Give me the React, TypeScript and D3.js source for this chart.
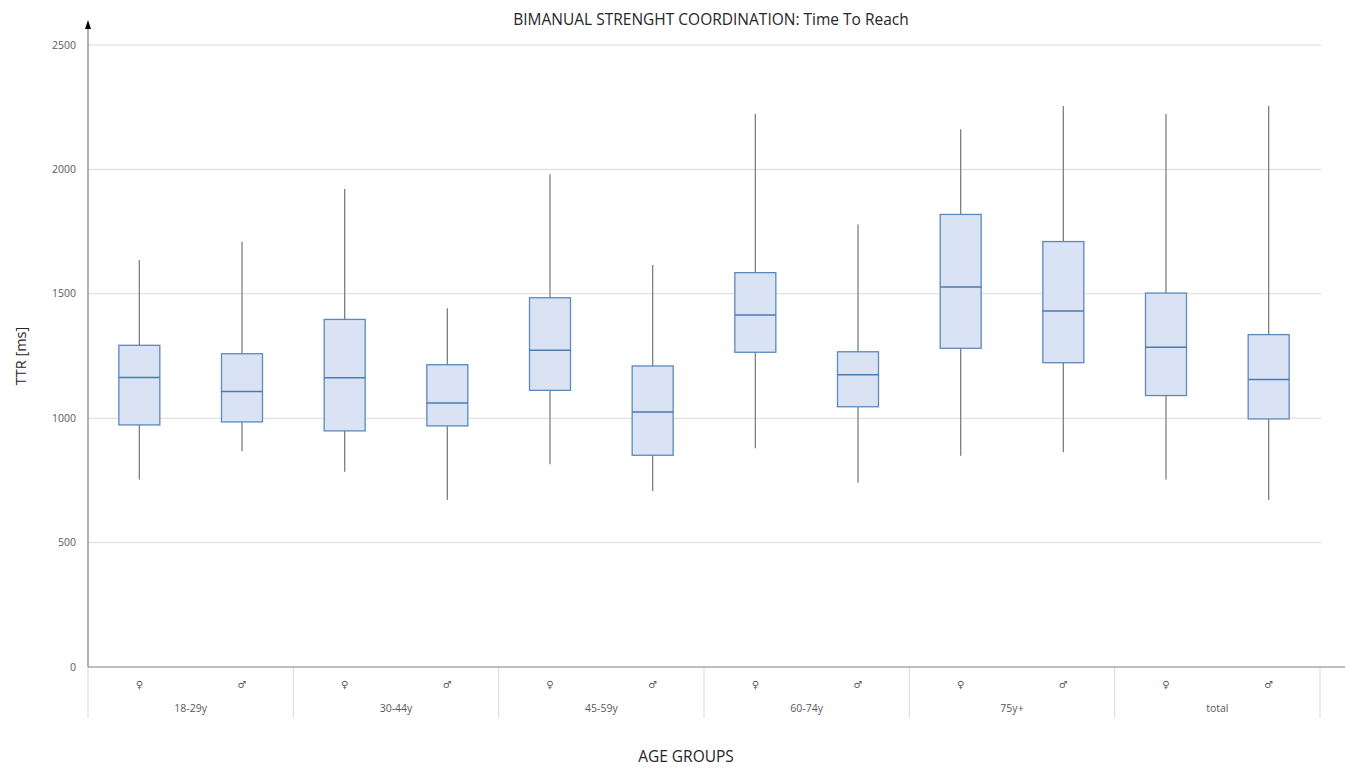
import React from "react";
import * as d3 from "d3";

const ageGroups = ["18-29y", "30-44y", "45-59y", "60-74y", "75y+", "total"];
const sexes = ["♀", "♂"];
// order: group0 F, group0 M, group1 F, ...
const whiskerLow = [754, 867, 785, 671, 815, 707, 879, 741, 849, 863, 754, 671];
const q1 = [973, 985, 949, 969, 1112, 851, 1265, 1046, 1281, 1223, 1091, 997];
const median = [1164, 1107, 1163, 1061, 1273, 1025, 1415, 1175, 1527, 1431, 1285, 1156];
const q3 = [1293, 1259, 1397, 1215, 1484, 1210, 1585, 1267, 1819, 1710, 1503, 1336];
const whiskerHigh = [1636, 1709, 1921, 1442, 1981, 1616, 2223, 1779, 2161, 2255, 2223, 2255];
const yTicks = [0, 500, 1000, 1500, 2000, 2500];

const W = 1345;
const H = 769;
const left = 88;
const right = 1320;
const top = 45;
const bottom = 667;
const FONT = "'Open Sans', sans-serif";

export default function App() {
  const y = d3.scaleLinear().domain([0, 2500]).range([bottom, top]);
  const xGroup = d3.scaleBand().domain(ageGroups).range([left, right]).padding(0);
  const xSex = d3.scaleBand().domain(sexes).range([0, xGroup.bandwidth()]).padding(0);
  const boxW = 41;

  const boxes = whiskerLow.map((lo, i) => {
    const g = ageGroups[Math.floor(i / 2)];
    const s = sexes[i % 2];
    const cx = (xGroup(g) as number) + (xSex(s) as number) + xSex.bandwidth() / 2;
    return { cx, lo, q1: q1[i], med: median[i], q3: q3[i], hi: whiskerHigh[i], key: g + s };
  });

  return (
    <svg width={W} height={H} style={{ position: "absolute", left: 0, top: 0, background: "#fff" }}>
      <rect width={W} height={H} fill="#fff" />
      <text x={711} y={25} textAnchor="middle" fontFamily={FONT} fontSize={15.5} fill="#262626">
        BIMANUAL STRENGHT COORDINATION: Time To Reach
      </text>
      {yTicks.map((t) => (
        <g key={t}>
          {t > 0 && (
            <line x1={left} x2={right + 1} y1={y(t)} y2={y(t)} stroke="#d9d9d9" strokeWidth={1} />
          )}
          <text x={76} y={y(t)} dy="0.35em" textAnchor="end" fontFamily={FONT} fontSize={10.5} fill="#595959">
            {t}
          </text>
        </g>
      ))}
      {/* group separators */}
      {[...ageGroups.map((g) => xGroup(g) as number), right].map((x, i) => (
        <line key={i} x1={x} x2={x} y1={bottom} y2={718} stroke="#d9d9d9" strokeWidth={1} />
      ))}
      {ageGroups.map((g) => (
        <g key={g}>
          <text x={(xGroup(g) as number) + xGroup.bandwidth() / 2} y={712} textAnchor="middle" fontFamily={FONT} fontSize={10.5} fill="#595959">
            {g}
          </text>
          {sexes.map((s) => (
            <text key={s} x={(xGroup(g) as number) + (xSex(s) as number) + xSex.bandwidth() / 2} y={688} textAnchor="middle" fontFamily="'DejaVu Sans', sans-serif" fontSize={10} fill="#595959">
              {s}
            </text>
          ))}
        </g>
      ))}
      {boxes.map((b) => (
        <g key={b.key}>
          <line x1={b.cx} x2={b.cx} y1={y(b.hi)} y2={y(b.q3)} stroke="#7f7f7f" strokeWidth={1.3} />
          <line x1={b.cx} x2={b.cx} y1={y(b.q1)} y2={y(b.lo)} stroke="#7f7f7f" strokeWidth={1.3} />
          <rect x={b.cx - boxW / 2} y={y(b.q3)} width={boxW} height={y(b.q1) - y(b.q3)} fill="#dae3f3" stroke="#5b89bd" strokeWidth={1.3} />
          <line x1={b.cx - boxW / 2} x2={b.cx + boxW / 2} y1={y(b.med)} y2={y(b.med)} stroke="#4a7bb3" strokeWidth={1.5} />
        </g>
      ))}
      {/* axes */}
      <line x1={left} x2={left} y1={bottom} y2={26} stroke="#7f7f7f" strokeWidth={1.2} />
      <path d={`M${left - 3},${29} L${left + 3},${29} L${left},${20} Z`} fill="#000" />
      <line x1={left} x2={W} y1={bottom} y2={bottom} stroke="#7f7f7f" strokeWidth={1.2} />
      <text transform={`translate(26,356) rotate(-90)`} textAnchor="middle" fontFamily={FONT} fontSize={14.5} fill="#262626">
        TTR [ms]
      </text>
      <text x={686} y={762} textAnchor="middle" fontFamily={FONT} fontSize={15.5} fill="#262626">
        AGE GROUPS
      </text>
    </svg>
  );
}
